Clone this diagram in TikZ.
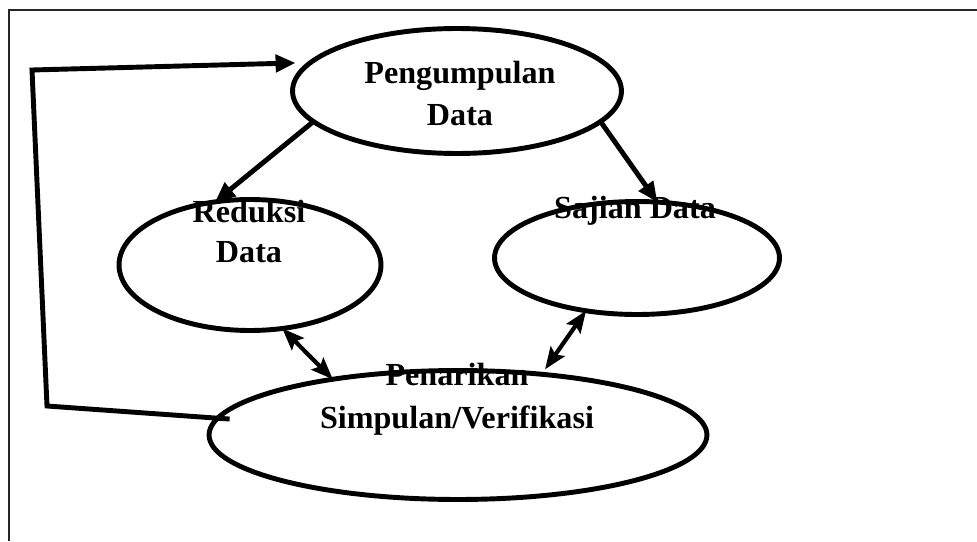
\documentclass[tikz,border=0pt]{standalone}
\usepackage{fontspec}
\setmainfont{Liberation Serif}
\usetikzlibrary{shapes.geometric,arrows.meta}
\begin{document}
\begin{tikzpicture}[x=0.02cm,y=-0.02cm,
  bub/.style={ellipse,draw=black,line width=2.8pt,fill=white,inner sep=0pt,outer sep=0pt},
  lbl/.style={font=\fontsize{18.3}{21}\selectfont\bfseries,anchor=base,inner sep=0pt},
  flow/.style={line width=2.8pt,-{Triangle[length=0.4cm,width=0.34cm]}},
  both/.style={line width=2.4pt,{Stealth[length=0.44cm,width=0.34cm,inset=0.08cm]}-{Stealth[length=0.44cm,width=0.34cm,inset=0.08cm]}},
  frame/.style={line width=0.9pt,draw=black!85}]
\useasboundingbox (0,0) rectangle (977,541);
\draw[frame] (977,10) -- (9,10) -- (9,541);

\node[bub,minimum width=6.58cm,minimum height=2.5cm] (peng) at (457,91) {};
\node[bub,minimum width=5.24cm,minimum height=2.62cm] (red) at (250,265) {};
\node[bub,minimum width=5.7cm,minimum height=2.26cm] (saj) at (637,258) {};
\node[bub,minimum width=9.96cm,minimum height=2.58cm] (pen) at (458,435) {};

\coordinate (c1) at (47,406);
\coordinate (c2) at (32,70);
\draw[flow,shorten <=-0.24cm,shorten >=0.3cm] (pen.176) -- (c1) -- (c2) -- (peng.169);
\draw[flow] (peng.192) -- (red.119);
\draw[flow] (peng.348) -- (saj.70);
\draw[both] (red.297) -- (pen.156);
\draw[both,shorten >=0.12cm] (saj.226) -- (pen.36);

\node[lbl] (t1) at (460,83) {Pengumpulan};
\node[lbl] (t2) at (460,125) {Data};
\node[lbl] (t3) at (249,222) {Reduksi};
\node[lbl] (t4) at (249,262) {Data};
\node[lbl] (t5) at (635,218) {Sajian Data};
\node[lbl] (t6) at (457,385) {Penarikan};
\node[lbl] (t7) at (457,428) {Simpulan/Verifikasi};
\end{tikzpicture}
\end{document}
